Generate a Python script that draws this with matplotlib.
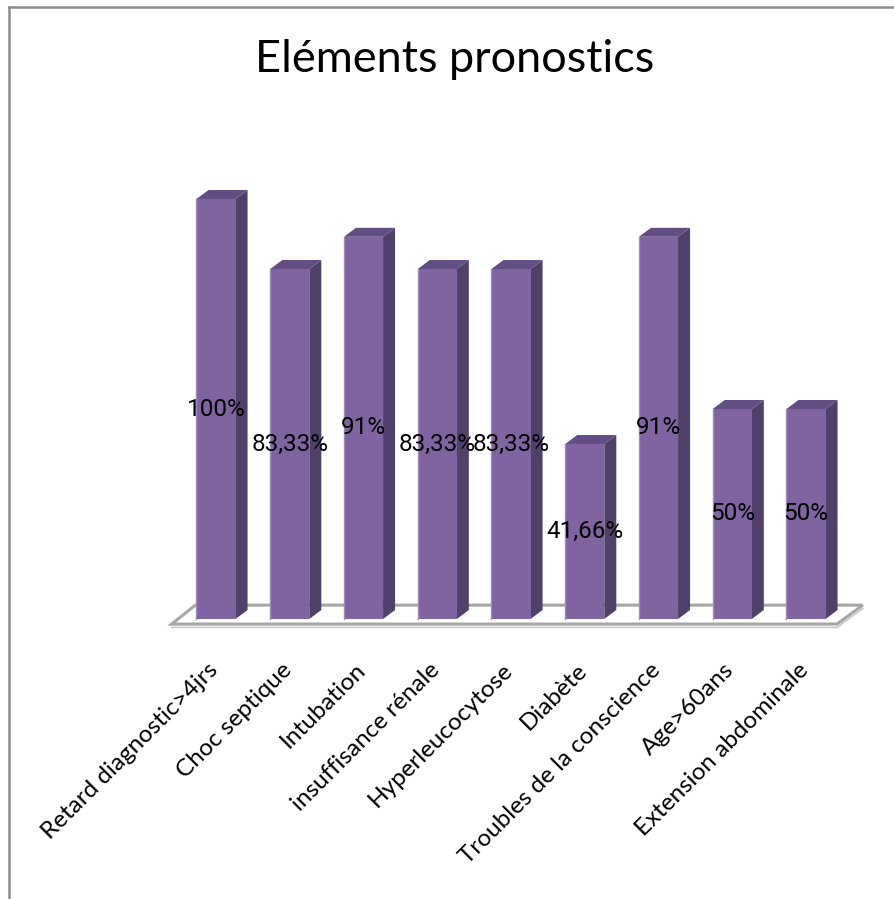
import matplotlib
matplotlib.use("Agg")
import matplotlib.pyplot as plt
from matplotlib.patches import Polygon
from matplotlib.lines import Line2D

categories = ["Retard diagnostic>4jrs", "Choc septique", "Intubation",
              "insuffisance rénale", "Hyperleucocytose", "Diabète",
              "Troubles de la conscience", "Age>60ans", "Extension abdominale"]
values = [100, 83.33, 91, 83.33, 83.33, 41.66, 91, 50, 50]
labels = ["100%", "83,33%", "91%", "83,33%", "83,33%", "41,66%", "91%", "50%", "50%"]

FRONT = "#8064A2"
SIDE = "#514069"
TOP = "#634E84"

W, H = 895, 899
fig = plt.figure(figsize=(W / 100, H / 100), dpi=100)

# bar 0 centre at x=216 px, bar 8 at 806 px; y=0 at 619 px, y=100 at 199 px
px_x = 73.75
px_y = 4.2
x0, x1 = -0.75, 8.75
y0, y1 = -10, 105
left = 216 + x0 * px_x
right = 216 + x1 * px_x
bottom = 619 - y0 * px_y
top = 619 - y1 * px_y
ax = fig.add_axes([left / W, 1 - bottom / H, (right - left) / W, (bottom - top) / H])
ax.set_xlim(x0, x1)
ax.set_ylim(y0, y1)
ax.axis("off")

# floor slab
fl = [(-0.6, -1.2), (8.42, -1.2), (8.77, 3.3), (-0.28, 3.3)]
ax.add_patch(Polygon(fl, closed=True, facecolor="white", edgecolor="#A6A6A6",
                     lw=2.2, zorder=1, clip_on=False))
ax.plot([-0.6, 8.42, 8.77], [-2.0, -2.0, 2.5], color="#C8C8C8", lw=1.2,
        zorder=1, clip_on=False)

bw = 0.53
dx = 0.163
dy = 2.14
for i, v in enumerate(values):
    xl = i - bw / 2
    xr = i + bw / 2
    ax.add_patch(Polygon([(xr, 0), (xr + dx, dy), (xr + dx, v + dy), (xr, v)],
                         closed=True, facecolor=SIDE, edgecolor="none", zorder=3))
    ax.add_patch(Polygon([(xl, v), (xr, v), (xr + dx, v + dy), (xl + dx, v + dy)],
                         closed=True, facecolor=TOP, edgecolor="none", zorder=3))
    ax.bar(i, v, width=bw, color=FRONT, edgecolor="none", zorder=4)
    ax.plot([xl, xl], [0, v], color="#A08CBC", lw=1, zorder=5)
    ax.text(i, v / 2, labels[i], ha="center", va="center", fontsize=17.5,
            family="Roboto", color="black", zorder=6)

for i, c in enumerate(categories):
    ax.text(i - 0.12, -9.6, c, rotation=45, rotation_mode="anchor", ha="right",
            va="top", fontsize=17.5, family="Lato", clip_on=False)

fig.text(455 / W, 1 - 72 / H, "Eléments pronostics", ha="center", va="baseline",
         fontsize=32.5, family="Lato")

# chart area border (left and top edges visible)
fig.add_artist(Line2D([9 / W, 9 / W], [0, 1 - 7 / H], color="#8C8C8C", lw=1.8,
                      transform=fig.transFigure))
fig.add_artist(Line2D([9 / W, 1], [1 - 7 / H, 1 - 7 / H], color="#8C8C8C", lw=1.8,
                      transform=fig.transFigure))

fig.savefig("out.png", dpi=100, facecolor="white")
